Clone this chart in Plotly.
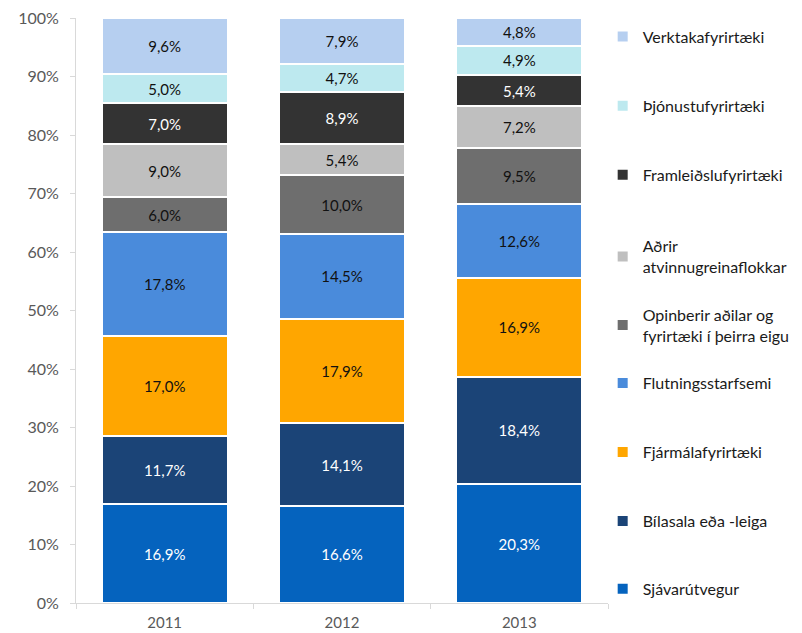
import plotly.graph_objects as go

years = ["2011", "2012", "2013"]
series_names = [
    "Sjávarútvegur",
    "Bílasala eða -leiga",
    "Fjármálafyrirtæki",
    "Flutningsstarfsemi",
    "Opinberir aðilar og<br>fyrirtæki í þeirra eigu",
    "Aðrir<br>atvinnugreinaflokkar",
    "Framleiðslufyrirtæki",
    "Þjónustufyrirtæki",
    "Verktakafyrirtæki",
]
sjavar = [16.9, 16.6, 20.3]
bilasala = [11.7, 14.1, 18.4]
fjarmala = [17.0, 17.9, 16.9]
flutnings = [17.8, 14.5, 12.6]
opinberir = [6.0, 10.0, 9.5]
adrir = [9.0, 5.4, 7.2]
framleidslu = [7.0, 8.9, 5.4]
thjonustu = [5.0, 4.7, 4.9]
verktaka = [9.6, 7.9, 4.8]
values = [sjavar, bilasala, fjarmala, flutnings, opinberir, adrir, framleidslu, thjonustu, verktaka]
tick_values = list(range(0, 101, 10))
tick_labels = [f"{v}%" for v in tick_values]

colors = ["#0563BE", "#1B4477", "#FFA600", "#4A8BDB", "#6E6E6E", "#BFBFBF", "#333333", "#BDE9EF", "#B6CFF0"]
text_colors = ["white", "white", "#111111", "#111111", "#111111", "#111111", "white", "#111111", "#111111"]

FONT = "Lato, Open Sans, sans-serif"

# vertical centre of each legend entry, in plot-area fractions (bottom entry first)
legend_y = [0.024, 0.140, 0.258, 0.376, 0.475, 0.592, 0.732, 0.850, 0.968]

fig = go.Figure()
layout_legends = {}
for i, (name, vals) in enumerate(zip(series_names, values)):
    key = "legend" if i == 0 else f"legend{i + 1}"
    fig.add_trace(go.Bar(
        x=years, y=vals, name=name,
        marker=dict(color=colors[i], line=dict(color="white", width=2)),
        text=[f"{v:.1f}%".replace(".", ",") for v in vals],
        textposition="inside", insidetextanchor="middle",
        textfont=dict(color=text_colors[i], size=15, family=FONT),
        legend=key,
        width=0.71,
    ))
    layout_legends[key] = dict(
        x=0.99, xanchor="left", y=legend_y[i], yanchor="middle",
        font=dict(size=16, color="#1A1A1A", family=FONT),
        itemwidth=30, bgcolor="rgba(0,0,0,0)",
    )

fig.update_layout(
    barmode="stack",
    width=794, height=625,
    margin=dict(l=68, r=194, t=10, b=30, autoexpand=False),
    plot_bgcolor="white", paper_bgcolor="white",
    font=dict(family=FONT, size=15, color="#595959"),
    uniformtext=dict(minsize=8, mode="show"),
    showlegend=True,
    **layout_legends,
)
fig.update_xaxes(
    type="category", showline=True, linecolor="#D9D9D9", linewidth=1,
    ticks="outside", tickson="boundaries", ticklen=5, tickcolor="#D9D9D9",
    ticklabelstandoff=6, ticklabeloverflow="allow",
    tickfont=dict(size=15, color="#595959"), automargin=False,
)
fig.update_yaxes(
    range=[0, 100.0001], tickvals=tick_values, ticktext=tick_labels,
    showgrid=False, showline=True, linecolor="#D9D9D9", linewidth=1,
    ticks="outside", ticklen=5, tickcolor="#D9D9D9", zeroline=False,
    ticklabelstandoff=8, ticklabeloverflow="allow",
    tickfont=dict(size=16, color="#595959"), automargin=False,
)

fig.write_html("out.html")
